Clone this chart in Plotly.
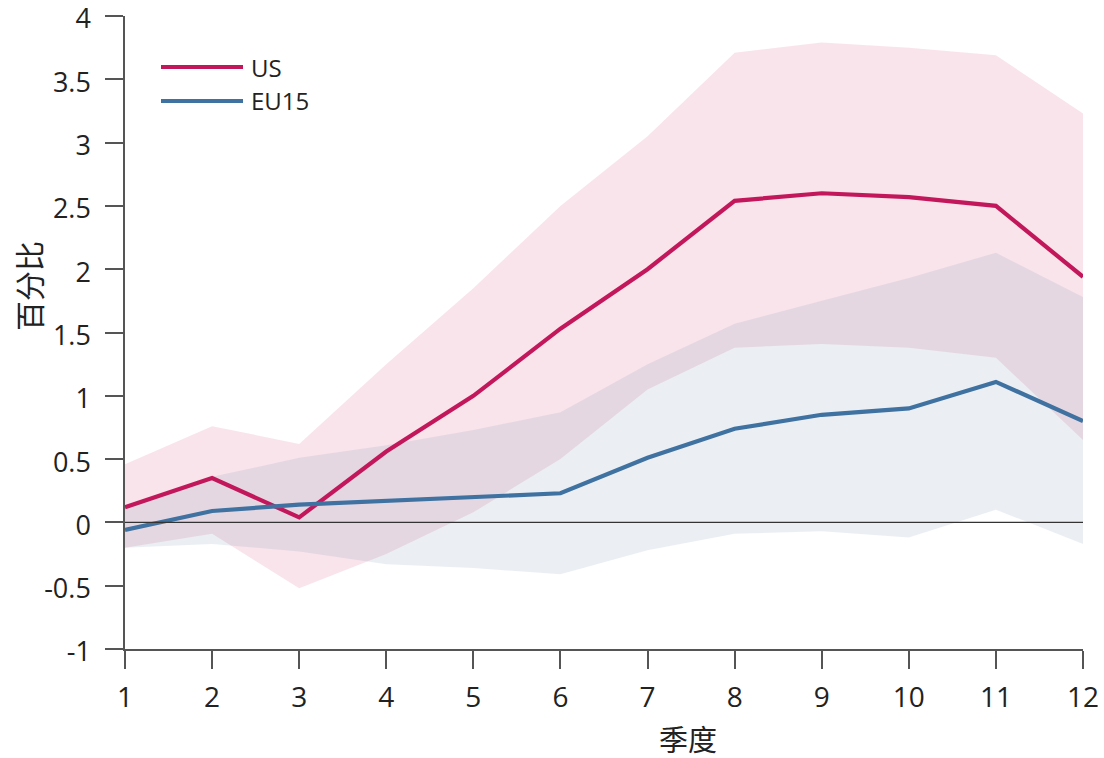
import plotly.graph_objects as go

quarters = [1, 2, 3, 4, 5, 6, 7, 8, 9, 10, 11, 12]
us = [0.12, 0.35, 0.04, 0.56, 1.00, 1.53, 2.00, 2.54, 2.60, 2.57, 2.50, 1.94]
us_upper = [0.46, 0.76, 0.62, 1.25, 1.85, 2.50, 3.05, 3.71, 3.79, 3.75, 3.69, 3.23]
us_lower = [-0.20, -0.09, -0.52, -0.25, 0.08, 0.50, 1.05, 1.38, 1.41, 1.38, 1.30, 0.65]
eu = [-0.06, 0.09, 0.14, 0.17, 0.20, 0.23, 0.51, 0.74, 0.85, 0.90, 1.11, 0.80]
eu_upper = [0.12, 0.36, 0.51, 0.61, 0.73, 0.87, 1.25, 1.57, 1.75, 1.93, 2.13, 1.78]
eu_lower = [-0.20, -0.17, -0.23, -0.33, -0.36, -0.41, -0.22, -0.09, -0.07, -0.12, 0.10, -0.17]
y_ticks = [-1, -0.5, 0, 0.5, 1, 1.5, 2, 2.5, 3, 3.5, 4]
y_tick_text = ["-1", "-0.5", "0", "0.5", "1", "1.5", "2", "2.5", "3", "3.5", "4"]
series_names = ["US", "EU15"]

US_COLOR = "#c2185b"
EU_COLOR = "#3f72a0"
FONT = "Open Sans, Noto Sans CJK SC, sans-serif"
CJK = "Noto Sans CJK SC"

W, H = 1104, 758
PL, PR, PT, PB = 125, 1083, 16, 649
PW, PH = PR - PL, PB - PT

def dx(px):
    return (px - PL) / PW

def dy(py):
    return (PB - py) / PH

fig = go.Figure()
fig.add_trace(go.Scatter(
    x=quarters + quarters[::-1], y=us_upper + us_lower[::-1],
    fill="toself", fillcolor="rgba(220,90,130,0.16)", line=dict(width=0),
    mode="lines", hoverinfo="skip", showlegend=False))
fig.add_trace(go.Scatter(
    x=quarters + quarters[::-1], y=eu_upper + eu_lower[::-1],
    fill="toself", fillcolor="rgba(110,140,180,0.14)", line=dict(width=0),
    mode="lines", hoverinfo="skip", showlegend=False))
fig.add_trace(go.Scatter(x=quarters, y=us, mode="lines", name=series_names[0],
                         line=dict(color=US_COLOR, width=4.2), showlegend=False))
fig.add_trace(go.Scatter(x=quarters, y=eu, mode="lines", name=series_names[1],
                         line=dict(color=EU_COLOR, width=4.2), showlegend=False))

# zero line above fills
fig.add_shape(type="line", xref="paper", yref="y", x0=0, x1=1, y0=0, y1=0,
              line=dict(color="#333333", width=1.2), layer="above")

# manual legend
for i, (name, col) in enumerate(zip(series_names, [US_COLOR, EU_COLOR])):
    py = 67 + i * 34
    fig.add_shape(type="line", xref="x domain", yref="y domain",
                  x0=dx(161), x1=dx(243), y0=dy(py), y1=dy(py),
                  line=dict(color=col, width=4.2))
    fig.add_annotation(xref="x domain", yref="y domain", x=dx(249), y=dy(py),
                       text=name, showarrow=False, xanchor="left", yanchor="middle",
                       font=dict(family=FONT, size=24, color="#222222"))

fig.add_annotation(xref="x domain", yref="y domain", x=dx(28), y=dy(286),
                   xanchor="center", yanchor="middle",
                   text="百分比", showarrow=False, textangle=-90,
                   font=dict(family=CJK, size=30, color="#222222"))
fig.add_annotation(xref="x domain", yref="y domain", x=dx(688), y=dy(738),
                   xanchor="center", yanchor="middle",
                   text="季度", showarrow=False,
                   font=dict(family=CJK, size=29, color="#222222"))

fig.update_layout(
    width=W, height=H,
    margin=dict(l=PL, r=W - PR, t=PT, b=H - PB, autoexpand=False),
    paper_bgcolor="white", plot_bgcolor="white",
    font=dict(family=FONT, size=28, color="#222222"),
    showlegend=False,
)
fig.update_xaxes(range=[1, 12], tickvals=quarters, showgrid=False, zeroline=False,
                 showline=True, linecolor="#555555", linewidth=1.5,
                 ticks="outside", ticklen=18, tickcolor="#555555", tickwidth=1.5,
                 tickfont=dict(size=28), ticklabeloverflow="allow", automargin=False,
                 ticklabelstandoff=5)
fig.update_yaxes(range=[-1, 4], tickvals=y_ticks, ticktext=y_tick_text,
                 showgrid=False, zeroline=False,
                 showline=True, linecolor="#555555", linewidth=1.5,
                 ticks="outside", ticklen=18, tickcolor="#555555", tickwidth=1.5,
                 tickfont=dict(size=27), ticklabeloverflow="allow", automargin=False,
                 ticklabelstandoff=9, ticklabelshift=3)

fig.write_html("out.html", config={"displayModeBar": False},
               post_script="document.body.style.margin='0px';document.body.style.overflow='hidden';")
